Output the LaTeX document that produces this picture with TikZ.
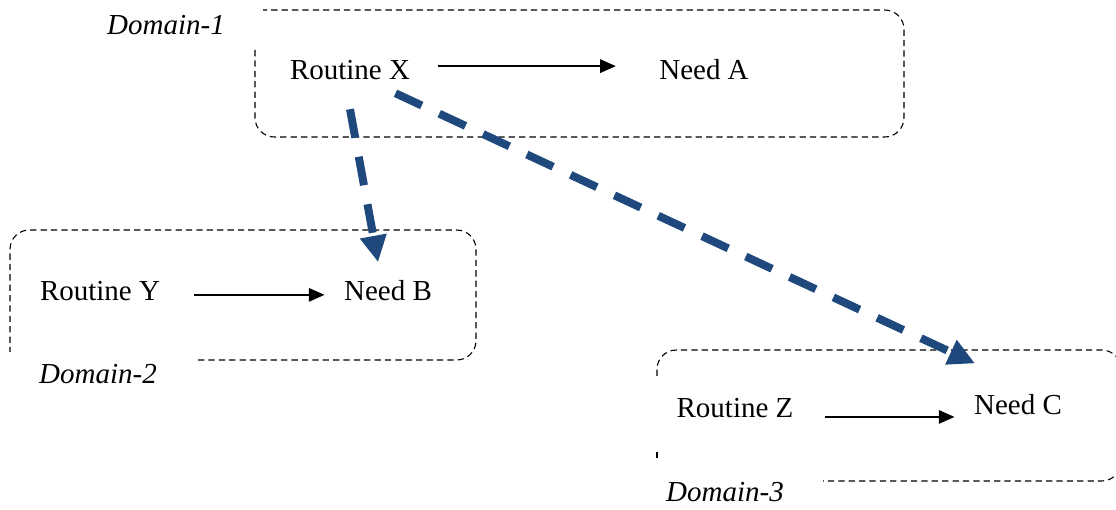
\documentclass[tikz,border=0pt]{standalone}
\usepackage{fontspec}
\setmainfont{Liberation Serif}
\usetikzlibrary{arrows.meta,calc}
\definecolor{dblue}{RGB}{31,73,125}
\tikzset{
  lbl/.style={font=\fontsize{12}{14}\selectfont, inner sep=0pt},
  dom/.style={font=\fontsize{12}{14}\selectfont\itshape, inner sep=0pt},
  domainbox/.style={line width=0.45pt, dash pattern=on 2.6pt off 1.7pt, rounded corners=8pt},
  blk/.style={line width=0.85pt, -{Triangle[length=6.5pt,width=5.5pt]}},
  bluearrow/.style={dblue, line width=3.3pt, dash pattern=on 12pt off 8pt, -{Triangle[length=11pt,width=10.5pt]}}
}
\begin{document}
\begin{tikzpicture}[x=0.414pt,y=-0.414pt]
\useasboundingbox (0,0) rectangle (1116,510);
% domain boxes (open outlines)
\draw[domainbox] (255,50) -- (255,137) -- (904,137) -- (904,10) -- (263,10);
\draw[domainbox] (198,360) -- (476,360) -- (476,230) -- (10,230) -- (10,352);
\draw[domainbox] (657,376) -- (657,350) -- (1121,350) -- (1121,481) -- (823,481);
\draw[domainbox] (657,452) -- (657,460);
% labels
\node[dom] (d1) at (166,25) {Domain-1};
\node[dom] (d2) at (98,374) {Domain-2};
\node[dom] (d3) at (725,492) {Domain-3};
\node[lbl] (X) at (350,70) {Routine X};
\node[lbl] (A) at (704,70) {Need A};
\node[lbl] (Y) at (100,291) {Routine Y};
\node[lbl] (B) at (388,291) {Need B};
\node[lbl] (Z) at (735,408) {Routine Z};
\node[lbl] (C) at (1018,405) {Need C};
% black arrows
\coordinate (xs) at ([yshift=1.6pt]X.east);
\draw[blk, shorten <=11.6pt, shorten >=17.8pt] (xs) -- (xs -| A.west);
\coordinate (ys) at ([yshift=-1.6pt]Y.east);
\draw[blk, shorten <=13.7pt, shorten >=7.9pt] (ys) -- (ys -| B.west);
\coordinate (zs) at ([yshift=-3.7pt]Z.east);
\draw[blk, shorten <=12.8pt, shorten >=7.9pt] (zs) -- (zs -| C.west);
% blue dashed arrows
\draw[bluearrow] ([yshift=-12pt]X.south) -- ([shift={(-4.1pt,7.5pt)}]B.north);
\draw[bluearrow] ([shift={(-6.2pt,-5.4pt)}]X.south east) -- ([shift={(-17.8pt,12.8pt)}]C.north);
\end{tikzpicture}
\end{document}
